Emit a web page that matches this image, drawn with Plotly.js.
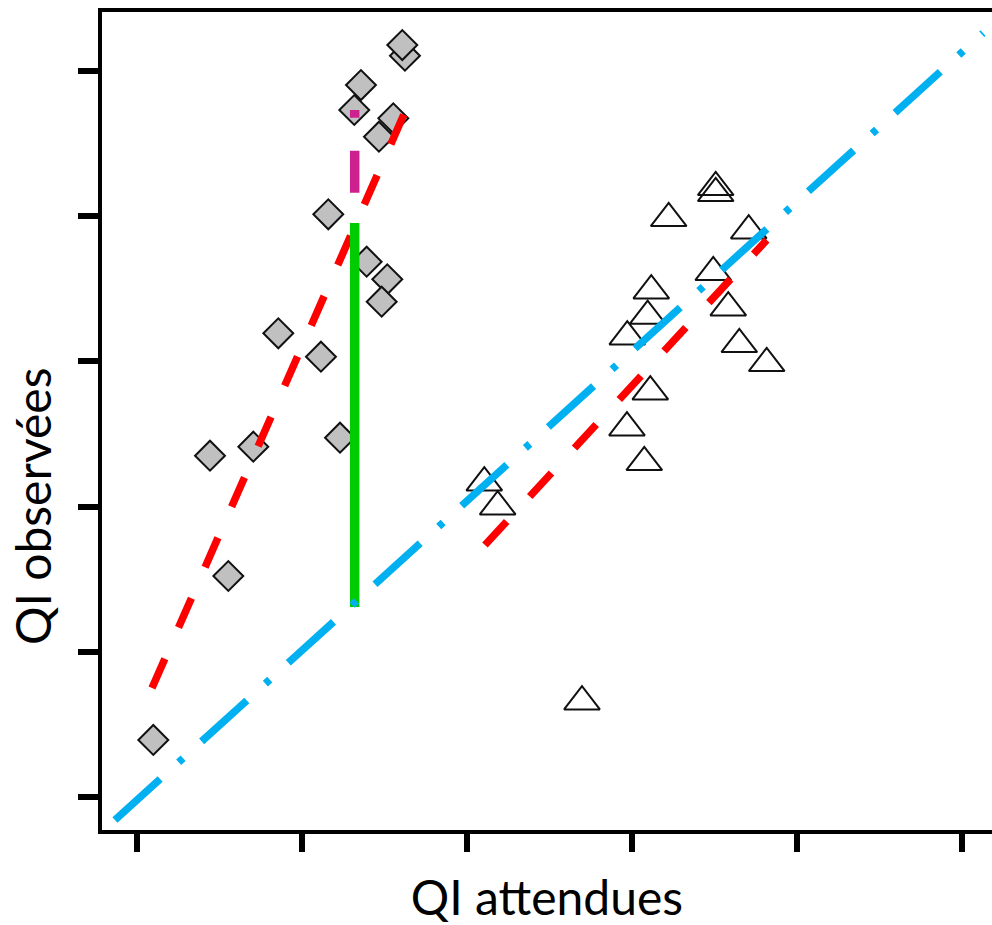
<!DOCTYPE html>
<html>
<head>
<meta charset="utf-8">
<script src="https://cdn.plot.ly/plotly-3.0.1.min.js"></script>
<style>
  html, body { margin: 0; padding: 0; background: #ffffff; }
  #chart { width: 992px; height: 925px; }
</style>
</head>
<body>
<div id="chart"></div>
<script>
// ---- data ----
const tickValues = [50, 70, 90, 110, 130, 150];

// group 1 (grey diamonds)
const diamondX = [51.98, 58.85, 61.07, 64.10, 67.13, 72.30, 74.61, 73.19, 76.34, 77.15, 77.84, 81.07, 79.33, 80.34, 79.66, 82.48, 82.16];
const diamondY = [57.85, 97.01, 80.44, 98.25, 113.87, 110.65, 99.49, 130.26, 144.63, 148.07, 123.73, 143.48, 140.95, 121.31, 118.22, 152.11, 153.58];

// group 2 (open triangles)
const triangleX = [120.15, 120.15, 114.45, 124.15, 119.85, 112.34, 111.90, 109.43, 121.67, 123.01, 126.33, 112.22, 109.39, 111.49, 92.10, 93.72, 103.94];
const triangleY = [133.98, 133.15, 129.71, 128.00, 122.27, 119.74, 116.25, 113.40, 117.40, 112.36, 109.74, 105.83, 100.87, 96.10, 93.29, 89.99, 63.13];

// identity line (expected = observed)
const identityX = [47.33, 152.55];
const identityY = [46.83, 155.23];

// regression lines
const fitLeftX = [51.82, 82.48];
const fitLeftY = [65.01, 144.35];
const fitRightX = [92.18, 126.33];
const fitRightY = [84.71, 126.72];

// vertical segments
const greenX = [76.39, 76.39];
const greenY = [76.17, 129.06];
const magentaX = [76.39, 76.39];
const magentaY = [133.24, 144.63];

// titles
const xTitle = 'QI attendues';
const yTitle = 'QI observées';

// ---- traces ----
const traces = [
  {
    x: diamondX, y: diamondY, type: 'scatter', mode: 'markers',
    marker: { symbol: 'diamond', size: 23, color: '#c0c0c0', line: { color: '#111111', width: 2 } },
    hoverinfo: 'x+y'
  },
  {
    x: triangleX, y: triangleY, type: 'scatter', mode: 'markers',
    marker: { symbol: 'triangle-up-open', size: 31, color: '#111111', line: { width: 2 } },
    hoverinfo: 'x+y'
  },
  {
    x: fitLeftX, y: fitLeftY, type: 'scatter', mode: 'lines',
    line: { color: '#ff0000', width: 7.5, dash: '32px,34px' }, hoverinfo: 'skip'
  },
  {
    x: fitRightX, y: fitRightY, type: 'scatter', mode: 'lines',
    line: { color: '#ff0000', width: 7.5, dash: '32px,34px' }, hoverinfo: 'skip'
  },
  {
    x: greenX, y: greenY, type: 'scatter', mode: 'lines',
    line: { color: '#00cc00', width: 9.5 }, hoverinfo: 'skip'
  },
  {
    x: magentaX, y: magentaY, type: 'scatter', mode: 'lines',
    line: { color: '#cf2090', width: 9.5, dash: '42px,33px' }, hoverinfo: 'skip'
  },
  {
    x: identityX, y: identityY, type: 'scatter', mode: 'lines',
    line: { color: '#00b0f0', width: 7.5, dash: '61px,25px,6px,25px' }, hoverinfo: 'skip'
  }
];

const fontFam = 'Lato, "Open Sans", sans-serif';

const layout = {
  width: 992, height: 925,
  margin: { l: 102, r: 0, t: 12, b: 95, pad: 0 },
  paper_bgcolor: '#ffffff', plot_bgcolor: '#ffffff',
  showlegend: false,
  font: { family: fontFam, color: '#000000' },
  xaxis: {
    range: [45.76, 153.64], tickmode: 'array', tickvals: tickValues,
    showticklabels: false, ticks: 'outside', ticklen: 18, tickwidth: 6, tickcolor: '#000000',
    showline: true, linecolor: '#000000', linewidth: 4, mirror: true,
    showgrid: false, zeroline: false, automargin: false,
    title: { text: xTitle, font: { family: fontFam, size: 48, color: '#000000' }, standoff: 31 }
  },
  yaxis: {
    range: [45.45, 158.13], tickmode: 'array', tickvals: tickValues,
    showticklabels: false, ticks: 'outside', ticklen: 20, tickwidth: 6, tickcolor: '#000000',
    showline: true, linecolor: '#000000', linewidth: 4, mirror: false,
    showgrid: false, zeroline: false, automargin: false
  },
  annotations: [
    {
      text: yTitle, xref: 'paper', yref: 'paper', x: -0.0775, y: 0.395,
      xanchor: 'center', yanchor: 'middle', textangle: -90, showarrow: false,
      font: { family: fontFam, size: 48, color: '#000000' }
    }
  ]
};

Plotly.newPlot('chart', traces, layout, { displayModeBar: false, staticPlot: true });
</script>
</body>
</html>
